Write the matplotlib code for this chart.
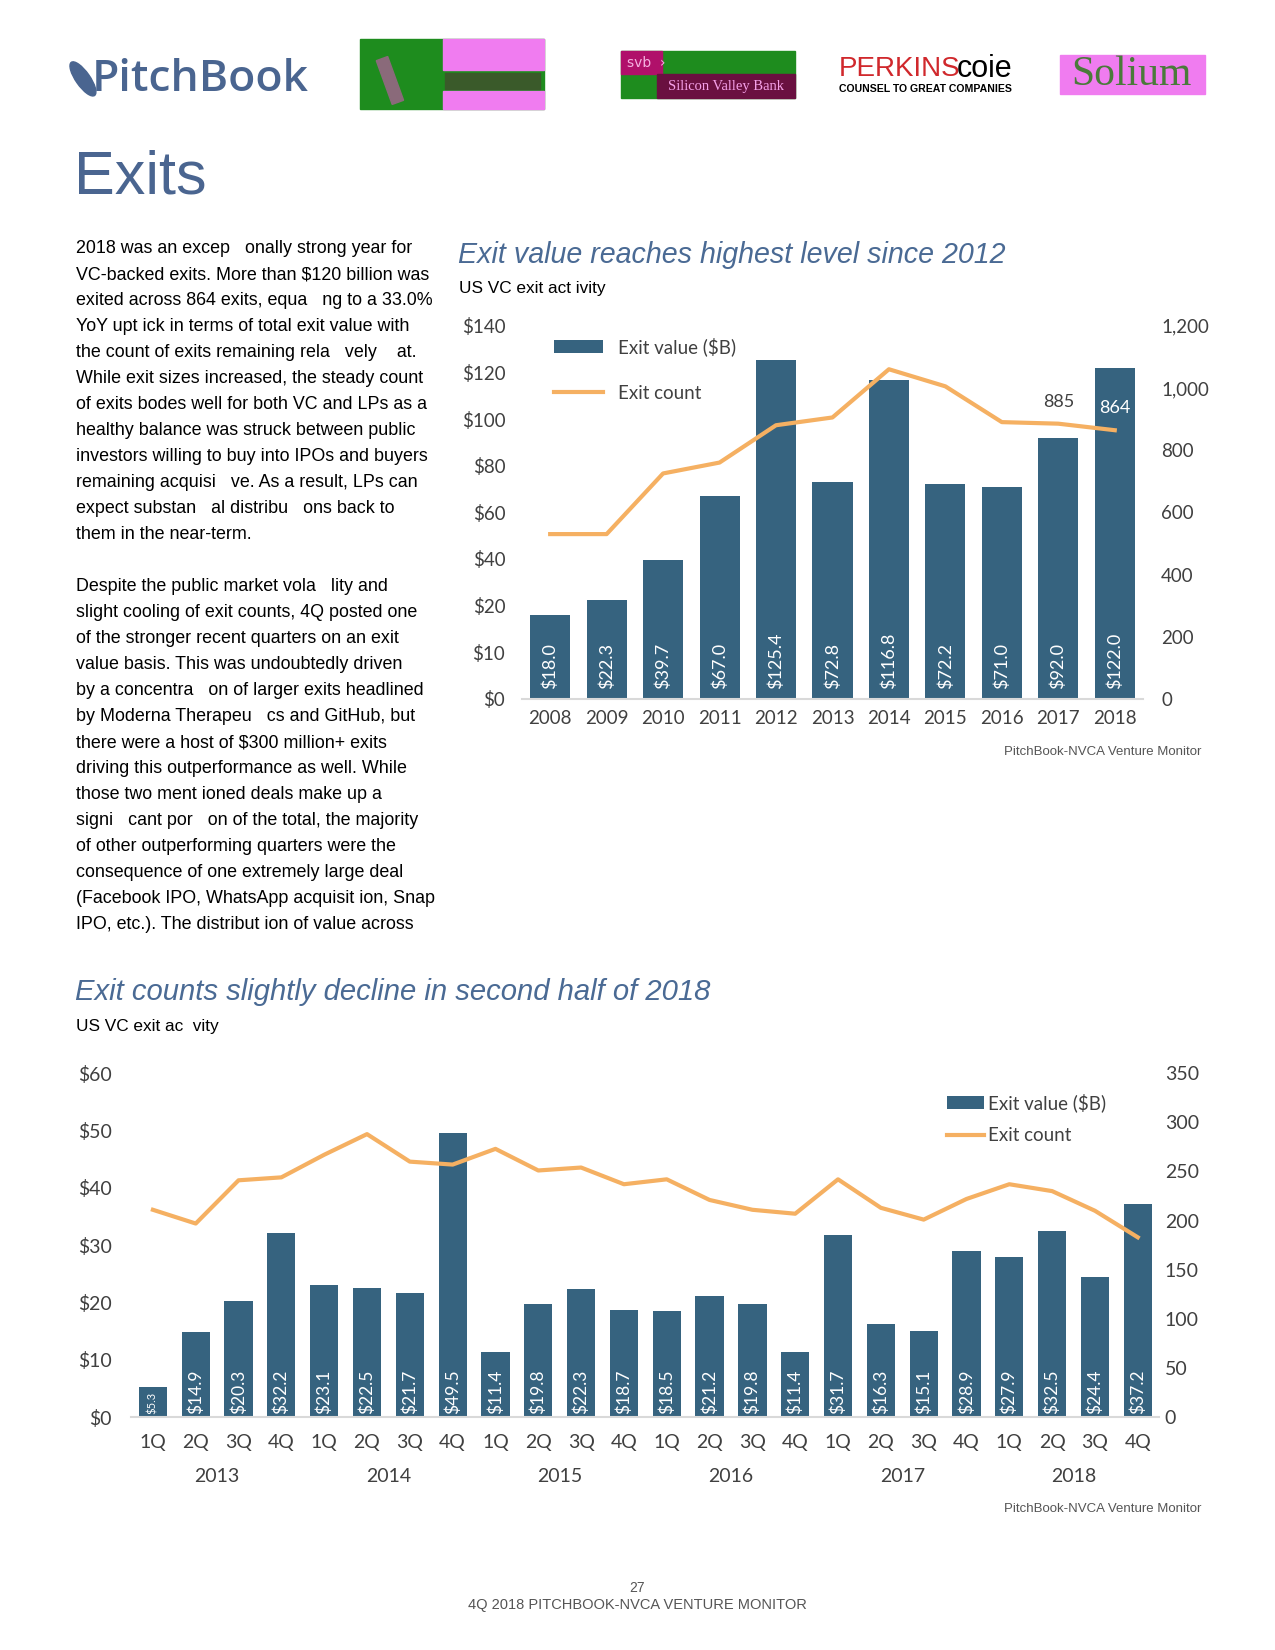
import matplotlib
matplotlib.use("Agg")
import matplotlib.pyplot as plt
from matplotlib.patches import Rectangle, Ellipse
import numpy as np

# ---- data ----
years = ["2008", "2009", "2010", "2011", "2012", "2013", "2014", "2015", "2016", "2017", "2018"]
annual_value = [18.0, 22.3, 39.7, 67.0, 125.4, 72.8, 116.8, 72.2, 71.0, 92.0, 122.0]
annual_count = [530, 530, 725, 760, 880, 905, 1060, 1005, 890, 885, 864]

quarters = ["1Q", "2Q", "3Q", "4Q"] * 6
q_years = ["2013", "2014", "2015", "2016", "2017", "2018"]
q_value = [5.3, 14.9, 20.3, 32.2, 23.1, 22.5, 21.7, 49.5, 11.4, 19.8, 22.3, 18.7,
           18.5, 21.2, 19.8, 11.4, 31.7, 16.3, 15.1, 28.9, 27.9, 32.5, 24.4, 37.2]
q_count = [211, 197, 241, 244, 267, 288, 260, 257, 273, 251, 254, 237,
           242, 221, 211, 207, 242, 213, 201, 222, 237, 230, 210, 183]

body = [
    "2018 was an excep   onally strong year for",
    "VC-backed exits. More than $120 billion was",
    "exited across 864 exits, equa   ng to a 33.0%",
    "YoY upt ick in terms of total exit value with",
    "the count of exits remaining rela   vely    at.",
    "While exit sizes increased, the steady count",
    "of exits bodes well for both VC and LPs as a",
    "healthy balance was struck between public",
    "investors willing to buy into IPOs and buyers",
    "remaining acquisi   ve. As a result, LPs can",
    "expect substan   al distribu   ons back to",
    "them in the near-term.",
    "",
    "Despite the public market vola   lity and",
    "slight cooling of exit counts, 4Q posted one",
    "of the stronger recent quarters on an exit",
    "value basis. This was undoubtedly driven",
    "by a concentra   on of larger exits headlined",
    "by Moderna Therapeu   cs and GitHub, but",
    "there were a host of $300 million+ exits",
    "driving this outperformance as well. While",
    "those two ment ioned deals make up a",
    "signi   cant por   on of the total, the majority",
    "of other outperforming quarters were the",
    "consequence of one extremely large deal",
    "(Facebook IPO, WhatsApp acquisit ion, Snap",
    "IPO, etc.). The distribut ion of value across",
]

BAR = "#36637f"
LINE = "#f5b062"
TITLE = "#4a6a94"
GRAY = "#404040"

W, H = 1275, 1650
S = 1.0115
fig = plt.figure(figsize=(W / 100, H / 100), dpi=100)


def px(x, y):
    return x * S / W, 1 - y * S / H


def ftext(x, y, s, **kw):
    fx, fy = px(x, y)
    fig.text(fx, fy, s, **kw)


# ---- header logos ----
ax_logo = fig.add_axes([0, 0, 1, 1])
ax_logo.set_xlim(0, W / S)
ax_logo.set_ylim(H / S, 0)
ax_logo.axis("off")

ax_logo.add_patch(Ellipse((82, 78), 14, 40, angle=-35, color="#4a6590"))
ftext(91, 79, "PitchBook", fontsize=32, family="Open Sans", weight="semibold",
      color="#4a6590", va="center")

# NVCA logo (distorted colours as in the scan)
ax_logo.add_patch(Rectangle((356, 39), 182, 69, color="#1e8c1e"))
ax_logo.add_patch(Rectangle((438, 39), 100, 30, color="#f07cf0"))
ax_logo.add_patch(Rectangle((438, 90), 100, 18, color="#f07cf0"))
ax_logo.add_patch(Rectangle((372, 60), 12, 46, angle=-20, color="#8a6a7a"))
ax_logo.add_patch(Rectangle((440, 72), 94, 16, color="#3a5a2a"))

# SVB logo
ax_logo.add_patch(Rectangle((614, 50), 172, 47, color="#1e8c1e"))
ax_logo.add_patch(Rectangle((614, 50), 40, 23, color="#b0106a"))
ax_logo.add_patch(Rectangle((650, 73), 136, 24, color="#6a1040"))
ftext(620, 62, "svb  \u203a", fontsize=10, color="#f5b0e0", va="center")
ftext(718, 86, "Silicon Valley Bank", fontsize=10.5, family="Liberation Serif",
      color="#f5a0e8", va="center", ha="center")

# Perkins Coie
ftext(829, 68, "PERKINS", fontsize=20, family="Liberation Sans", color="#d0282c",
      va="center")
ftext(946, 68, "coie", fontsize=22, family="Liberation Sans", color="black",
      va="center")
ftext(829, 88, "COUNSEL TO GREAT COMPANIES", fontsize=7.6, family="Liberation Sans",
      weight="bold", color="black", va="center")

# Solium
ax_logo.add_patch(Rectangle((1048, 54), 143, 39, color="#f07cf0"))
ftext(1119, 74, "Solium", fontsize=30, family="Liberation Serif", color="#4a7a3a",
      va="center", ha="center")

# ---- page titles and body text ----
ftext(73, 176, "Exits", fontsize=44, family="Liberation Sans", color="#4a6590",
      va="center")

for i, line in enumerate(body):
    ftext(75, 246 + i * 25.7, line, fontsize=12.9, family="Liberation Sans",
          color="black", va="center")

ftext(453, 252, "Exit value reaches highest level since 2012", fontsize=20.6,
      family="Liberation Sans", style="italic", color=TITLE, va="center")
ftext(454, 285, "US VC exit act ivity", fontsize=12.4, family="Liberation Sans",
      color="black", va="center")

ftext(74, 981, "Exit counts slightly decline in second half of 2018", fontsize=21.1,
      family="Liberation Sans", style="italic", color=TITLE, va="center")
ftext(75, 1015, "US VC exit ac  vity", fontsize=12.4, family="Liberation Sans",
      color="black", va="center")

ftext(1188, 743, "PitchBook-NVCA Venture Monitor", fontsize=9.5,
      family="Liberation Sans", color="#555555", ha="right", va="center")
ftext(1188, 1492, "PitchBook-NVCA Venture Monitor", fontsize=9.5,
      family="Liberation Sans", color="#555555", ha="right", va="center")

ftext(630, 1570, "27", fontsize=10, family="Liberation Sans", color="#555555",
      ha="center", va="center")
ftext(630, 1587, "4Q 2018 PITCHBOOK-NVCA VENTURE MONITOR", fontsize=10.5,
      family="Liberation Sans", color="#555555", ha="center", va="center")

# ---- top chart ----
def fwd(v):
    v = np.asarray(v, dtype=float)
    return np.where(v <= 20, v / 10, 2 + (v - 20) / 20)


def inv(f):
    f = np.asarray(f, dtype=float)
    return np.where(f <= 2, f * 10, 20 + (f - 2) * 20)


l, b = px(516, 691)
r, t = px(1130, 322)
ax1 = fig.add_axes([l, b, r - l, t - b])
ax1.set_yscale("function", functions=(fwd, inv))
x1 = np.arange(len(years))
ax1.bar(x1, annual_value, width=0.71, color=BAR, label="Exit value ($B)", zorder=2)
ax1.set_xlim(-0.5, len(years) - 0.5)
ax1.set_ylim(0, 140)
ax1.set_yticks([0, 10, 20, 40, 60, 80, 100, 120, 140])
ax1.set_yticklabels(["$%d" % v for v in [0, 10, 20, 40, 60, 80, 100, 120, 140]])
ax1.set_xticks(x1)
ax1.set_xticklabels(years)
for i, v in enumerate(annual_value):
    ax1.annotate("$%.1f" % v, (i, 0), xytext=(0, 7), textcoords="offset points",
                 rotation=90, ha="center", va="bottom", color="white",
                 fontsize=13, family="Lato")

ax1b = ax1.twinx()
ax1b.plot(x1, annual_count, color=LINE, lw=3, label="Exit count", zorder=3)
ax1b.set_ylim(0, 1200)
ax1b.set_yticks(range(0, 1201, 200))
ax1b.set_yticklabels(["{:,}".format(v) for v in range(0, 1201, 200)])
ax1b.annotate("885", (9, annual_count[9]), xytext=(0, 10), textcoords="offset points",
              ha="center", va="bottom", color=GRAY, fontsize=13, family="Lato")
ax1b.annotate("864", (10, annual_count[10]), xytext=(0, 10), textcoords="offset points",
              ha="center", va="bottom", color="white", fontsize=13, family="Lato")

for a in (ax1, ax1b):
    for s in a.spines.values():
        s.set_visible(False)
    a.tick_params(length=0, labelsize=13.5, labelcolor=GRAY)
    for lab in a.get_xticklabels() + a.get_yticklabels():
        lab.set_family("Lato")
ax1.spines["bottom"].set_visible(True)
ax1.spines["bottom"].set_color("#d9d9d9")
ax1.spines["bottom"].set_linewidth(1.5)
ax1.tick_params(axis="y", pad=12)
ax1.tick_params(axis="x", pad=8)
ax1b.tick_params(axis="y", pad=13)

h1, l1 = ax1.get_legend_handles_labels()
h2, l2 = ax1b.get_legend_handles_labels()
leg = ax1b.legend(h1 + h2, l1 + l2, loc="upper left", bbox_to_anchor=(0.025, 1.015),
                  frameon=False, labelspacing=1.55, handlelength=2.6, handleheight=0.7,
                  prop={"family": "Lato", "size": 13.5})
for txt in leg.get_texts():
    txt.set_color(GRAY)

# ---- bottom chart ----
l, b = px(130, 1401)
r, t = px(1146, 1061)
ax2 = fig.add_axes([l, b, r - l, t - b])
x2 = np.arange(len(q_value))
ax2.bar(x2, q_value, width=0.66, color=BAR, label="Exit value ($B)", zorder=2)
ax2.set_xlim(-0.5, len(q_value) - 0.5)
ax2.set_ylim(0, 60)
ax2.set_yticks(range(0, 61, 10))
ax2.set_yticklabels(["$%d" % v for v in range(0, 61, 10)])
ax2.set_xticks(x2)
ax2.set_xticklabels(quarters)
for i, v in enumerate(q_value):
    ax2.annotate("$%.1f" % v, (i, 0), xytext=(0, 2), textcoords="offset points",
                 rotation=90, ha="center", va="bottom", color="white",
                 fontsize=8 if v < 10 else 12.5, family="Lato")
for k, yr in enumerate(q_years):
    ax2.annotate(yr, (4 * k + 1.5, 0), xytext=(0, -43), textcoords="offset points",
                 ha="center", va="center", color=GRAY, fontsize=14, family="Lato",
                 annotation_clip=False)

ax2b = ax2.twinx()
ax2b.plot(x2, q_count, color=LINE, lw=3, label="Exit count", zorder=3)
ax2b.set_ylim(0, 350)
ax2b.set_yticks(range(0, 351, 50))

for a in (ax2, ax2b):
    for s in a.spines.values():
        s.set_visible(False)
    a.tick_params(length=0, labelsize=14, labelcolor=GRAY)
    for lab in a.get_xticklabels() + a.get_yticklabels():
        lab.set_family("Lato")
ax2.spines["bottom"].set_visible(True)
ax2.spines["bottom"].set_color("#d9d9d9")
ax2.spines["bottom"].set_linewidth(1.5)
ax2.tick_params(axis="y", pad=14)
ax2.tick_params(axis="x", pad=12)
ax2b.tick_params(axis="y", pad=4)

h1, l1 = ax2.get_legend_handles_labels()
h2, l2 = ax2b.get_legend_handles_labels()
leg = ax2b.legend(h1 + h2, l1 + l2, loc="upper left", bbox_to_anchor=(0.777, 0.99),
                  frameon=False, labelspacing=0.8, handlelength=2.0, handleheight=0.7,
                  handletextpad=0.2, prop={"family": "Lato", "size": 13.5})
for txt in leg.get_texts():
    txt.set_color(GRAY)

fig.savefig("out.png", dpi=100)
